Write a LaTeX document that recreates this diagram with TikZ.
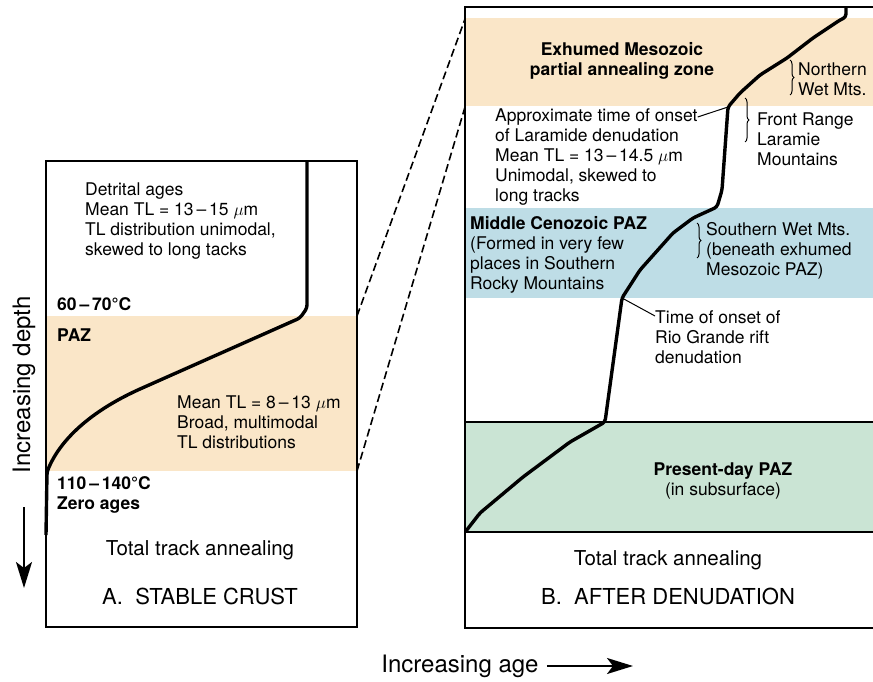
\documentclass[tikz,border=0pt]{standalone}
\usepackage{fontspec}
\setmainfont{TeX Gyre Heros}
\usetikzlibrary{decorations.pathreplacing}
\usetikzlibrary{arrows.meta}

\definecolor{pazTan}{RGB}{250,230,200}
\definecolor{pazBlue}{RGB}{190,221,230}
\definecolor{pazGreen}{RGB}{202,228,212}

\tikzset{
    panel/.style={draw, line width=1.9pt},
    trend/.style={line width=3.4pt, line join=round, rounded corners=3pt},
    txt/.style={font=\fontsize{17.5}{20}\selectfont, align=left, inner sep=0pt, anchor=north west},
    btxt/.style={txt, font=\fontsize{17.5}{20}\selectfont\bfseries},
    bigtxt/.style={font=\fontsize{20.5}{24}\selectfont, inner sep=0pt},
    ttl/.style={font=\fontsize{22}{26}\selectfont, inner sep=0pt},
    axlbl/.style={font=\fontsize{24}{28}\selectfont, inner sep=0pt},
    bracey/.style={decorate, decoration={brace, amplitude=4pt}, line width=1pt},
    leader/.style={line width=1pt},
    zoomline/.style={dash pattern=on 8pt off 4pt, line width=1.6pt},
    axarrow/.style={-{Stealth[length=26pt, width=16pt, inset=6pt]}, line width=2pt},
}

\begin{document}
\begin{tikzpicture}[x=1pt, y=-1pt]
    \useasboundingbox (0,0) rectangle (873,682);

    % A. Stable crust
    \begin{scope}
        \fill[pazTan] (46,316) rectangle (357,471);
        \draw[panel] (46,161) rectangle (357,627);

        \draw[trend] (307,161) -- (307,308) -- (300,318) -- (140,389)
            .. controls (90,412) and (60,440) .. (47,472) -- (46,535);

        \node[txt] (detrital) at (85,183) {Detrital ages\\Mean TL = 13\,--\,15 $\mu$m\\TL distribution unimodal,\\skewed to long tacks};
        \node[btxt] (topT) at (57,297) {60\,--\,70°C};
        \node[btxt] (pazA) at (57,329) {PAZ};
        \node[txt] (meanA) at (177,396) {Mean TL = 8\,--\,13 $\mu$m\\Broad, multimodal\\TL distributions};
        \node[btxt] (botT) at (57,476) {110\,--\,140°C\\Zero ages};
        \node[bigtxt] (totalA) at (200,550) {Total track annealing};
        \node[ttl] (titleA) at (200,596) {A.\ \ STABLE CRUST};

        \coordinate (pazAtop) at (357,316);
        \coordinate (pazAbot) at (357,471);
    \end{scope}

    % B. After denudation
    \begin{scope}
        \fill[pazTan] (465,18) rectangle (875,106);
        \fill[pazBlue] (465,208) rectangle (875,298);
        \fill[pazGreen] (465,422) rectangle (875,532);
        \draw[panel] (465,7) rectangle (875,628);
        \draw[panel] (465,422) -- (875,422);
        \draw[panel] (465,532) -- (875,532);

        \draw[trend] (846,7) -- (846,17) -- (840,20) -- (813,38) -- (787,58) -- (760,75)
            -- (740,93) -- (728,107) -- (722,190) -- (717,207) -- (693,218) -- (673,233)
            -- (640,270) -- (622,298) -- (605,422) -- (570,442) -- (523,477) -- (480,513)
            -- (466,531);

        \coordinate (laramide) at (728,107);
        \coordinate (riogrande) at (622,298);
        \coordinate (pazBtop) at (465,19);
        \coordinate (pazBbot) at (465,107);

        \node[btxt, align=center, anchor=center] (exhumed) at (622,61) {Exhumed Mesozoic\\partial annealing zone};
        \node[txt] (approx) at (495,108) {Approximate time of onset\\of Laramide denudation\\Mean TL = 13\,--\,14.5 $\mu$m\\Unimodal, skewed to\\long tracks};
        \node[txt] (northern) at (798,63) {Northern\\Wet Mts.};
        \node[txt] (front) at (757,113) {Front Range\\Laramie\\Mountains};
        \node[txt] (middle) at (470,216) {\textbf{Middle Cenozoic PAZ}\\(Formed in very few\\places in Southern\\Rocky Mountains};
        \node[txt] (southern) at (706,222) {Southern Wet Mts.\\(beneath exhumed\\Mesozoic PAZ)};
        \node[txt] (rio) at (655,310) {Time of onset of\\Rio Grande rift\\denudation};
        \node[txt, align=center, anchor=center] (present) at (723,481) {\textbf{Present-day PAZ}\\(in subsurface)};
        \node[bigtxt] (totalB) at (668,560) {Total track annealing};
        \node[ttl] (titleB) at (668,596) {B.\ \ AFTER DENUDATION};

        % leaders and braces
        \draw[leader] ([yshift=-9pt]approx.north east) -- (laramide);
        \draw[leader] (riogrande) -- ([yshift=-6pt]rio.north west);
        \draw[bracey] (790,60) -- (790,95);
        \draw[bracey] (745,98) -- (745,142);
        \draw[bracey] (697,223) -- (697,258);
    \end{scope}

    % zoom lines
    \draw[zoomline] (pazAtop) -- (pazBtop);
    \draw[zoomline] (pazAbot) -- (pazBbot);

    % axes
    \node[axlbl, rotate=90] (depth) at (24,385) {Increasing depth};
    \coordinate (depthEnd) at (24,588);
    \draw[axarrow] (24,507) -- (depthEnd);
    \node[axlbl] (age) at (460,666) {Increasing age};
    \coordinate (ageEnd) at (633,666);
    \draw[axarrow] (age.east) ++(8,0) -- (ageEnd);
\end{tikzpicture}
\end{document}
